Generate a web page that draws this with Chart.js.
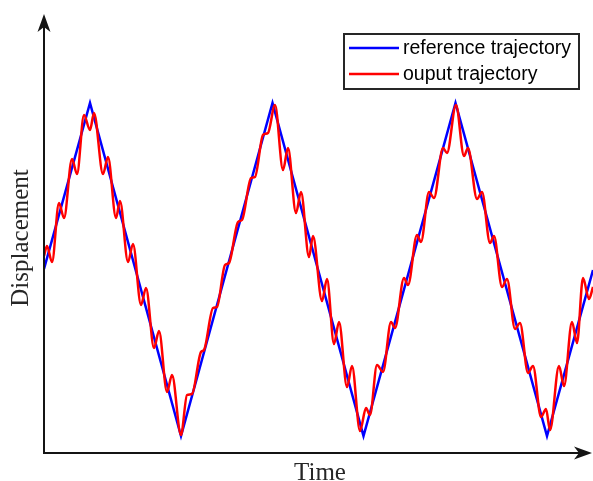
<!DOCTYPE html>
<html>
<head>
<meta charset="utf-8">
<script src="https://cdn.jsdelivr.net/npm/chart.js@4.4.0/dist/chart.umd.min.js"></script>
<style>
  html, body { margin: 0; padding: 0; background: #ffffff; }
  #wrap { width: 593px; height: 481px; position: relative; }
</style>
</head>
<body>
<div id="wrap"><canvas id="c" width="593" height="481"></canvas></div>
<script>
// Reference trajectory (triangle wave vertices)
const timeRef = [0, 46, 137, 228.5, 319.5, 411.5, 503, 549];
const dispRef = [0, 166, -167, 166, -167, 166, -167, -1];

// Output trajectory (local extrema / plateau points)
const timeOut = [0,3,8,15,20,28,33,40,46,50,59,64,72,76,84,89,97,102,110,115,123,128,137,143,148,157,160,169,173,181,185,194,198,207,211,219,224,231,239,244,252,257,265,269,278,283,290,295,303,308,316,322,326,333,339,347,351,360,364,373,377,385,390,399,403,412,420,424,433,438,446,450,458,463,471,476,484,489,497,502,506,515,520,528,533,539,545,549];
const dispOut = [13,23,7,66,51,110,95,154,139,156,95,112,51,68,7,25,-36,-19,-79,-62,-123,-106,-166,-126,-125,-83,-81,-39,-38,4,6,47,49,91,92,134,136,164,99,121,56,77,12,33,-32,-10,-75,-53,-118,-97,-162,-139,-146,-96,-103,-53,-59,-9,-16,34,27,77,71,121,116,164,113,121,70,77,26,33,-18,-10,-60,-54,-104,-97,-148,-140,-161,-97,-117,-53,-74,-9,-30,-18];

const seriesNames = ['reference trajectory', 'ouput trajectory'];
const xLabel = 'Time';
const yLabel = 'Displacement';

const refPts = timeRef.map((t, i) => ({x: t, y: dispRef[i]}));
const outPts = timeOut.map((t, i) => ({x: t, y: dispOut[i]}));

const axesPlugin = {
  id: 'axesArrows',
  afterDatasetsDraw(chart) {
    const ctx = chart.ctx;
    const a = chart.chartArea;
    const x0 = a.left, y0 = a.bottom;
    ctx.save();
    ctx.strokeStyle = '#141414';
    ctx.fillStyle = '#141414';
    ctx.lineWidth = 2;
    // y axis
    ctx.beginPath(); ctx.moveTo(x0, y0); ctx.lineTo(x0, a.top + 12); ctx.stroke();
    // x axis
    ctx.beginPath(); ctx.moveTo(x0 - 1, y0); ctx.lineTo(a.right - 12, y0); ctx.stroke();
    // arrowheads
    const tipY = a.top;
    ctx.beginPath();
    ctx.moveTo(x0, tipY);
    ctx.lineTo(x0 + 6.5, tipY + 18);
    ctx.lineTo(x0, tipY + 13);
    ctx.lineTo(x0 - 6.5, tipY + 18);
    ctx.closePath(); ctx.fill();
    const tipX = a.right - 1;
    ctx.beginPath();
    ctx.moveTo(tipX, y0);
    ctx.lineTo(tipX - 18, y0 - 6.5);
    ctx.lineTo(tipX - 13, y0);
    ctx.lineTo(tipX - 18, y0 + 6.5);
    ctx.closePath(); ctx.fill();

    // axis labels
    ctx.fillStyle = '#262626';
    ctx.font = '25px "Liberation Serif", serif';
    ctx.textAlign = 'center';
    ctx.textBaseline = 'alphabetic';
    ctx.fillText(xLabel, 320, 480);
    ctx.save();
    ctx.translate(28, 238);
    ctx.rotate(-Math.PI / 2);
    ctx.fillText(yLabel, 0, 0);
    ctx.restore();

    // legend
    const bx = 344, by = 34, bw = 235, bh = 55;
    ctx.fillStyle = '#ffffff';
    ctx.fillRect(bx, by, bw, bh);
    ctx.strokeStyle = '#262626';
    ctx.lineWidth = 2;
    ctx.strokeRect(bx, by, bw, bh);
    const colors = ['#0000ff', '#ff0000'];
    const rows = [48, 74];
    ctx.font = '19.5px "Liberation Sans", Arial, sans-serif';
    ctx.textAlign = 'left';
    ctx.textBaseline = 'middle';
    for (let i = 0; i < 2; i++) {
      ctx.strokeStyle = colors[i];
      ctx.lineWidth = 2.5;
      ctx.beginPath(); ctx.moveTo(349, rows[i]); ctx.lineTo(399, rows[i]); ctx.stroke();
      ctx.fillStyle = '#000000';
      ctx.fillText(seriesNames[i], 403, rows[i] + 1);
    }
    ctx.restore();
  }
};

new Chart(document.getElementById('c'), {
  type: 'scatter',
  data: {
    datasets: [
      { label: seriesNames[0], data: refPts, showLine: true, borderColor: '#0000ff', borderWidth: 2.5,
        pointRadius: 0, tension: 0, order: 2 },
      { label: seriesNames[1], data: outPts, showLine: true, borderColor: '#ff0000', borderWidth: 2.5,
        pointRadius: 0, cubicInterpolationMode: 'monotone', order: 1 }
    ]
  },
  options: {
    responsive: false,
    animation: false,
    layout: { padding: { left: 44, right: 0, top: 14, bottom: 28 } },
    plugins: { legend: { display: false }, tooltip: { enabled: false } },
    scales: {
      x: { type: 'linear', display: false, min: 0, max: 549 },
      y: { type: 'linear', display: false, min: -184, max: 255 }
    }
  },
  plugins: [axesPlugin]
});
</script>
</body>
</html>
